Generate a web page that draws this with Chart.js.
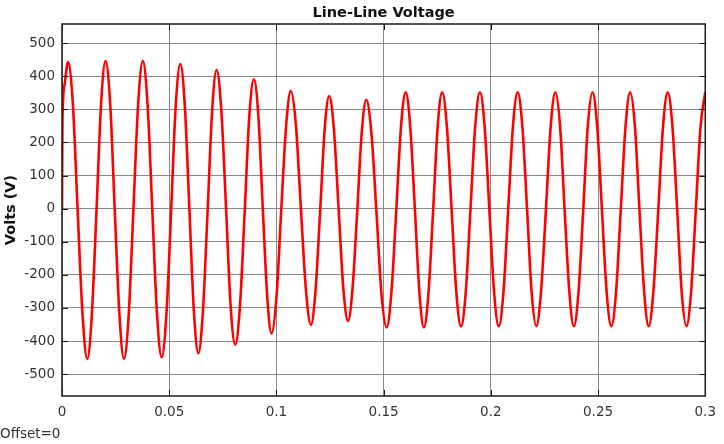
<!DOCTYPE html>
<html><head><meta charset="utf-8">
<script src="https://cdn.jsdelivr.net/npm/chart.js@4/dist/chart.umd.min.js"></script>
<style>html,body{margin:0;padding:0;background:#fff;}canvas{display:block;}</style>
</head><body>
<canvas id="c" width="724" height="444"></canvas>
<script>
const chartTitle = 'Line-Line Voltage';
const yAxisTitle = 'Volts (V)';
const footnote = 'Offset=0';
const xTickValues = [0, 0.05, 0.1, 0.15, 0.2, 0.25, 0.3];
const yTickValues = [-500, -400, -300, -200, -100, 0, 100, 200, 300, 400, 500];

const timeValues = [
0, 0.0002, 0.0012, 0.0028, 0.0051, 0.0073, 0.0096, 0.0118, 0.0139, 0.0161, 0.0182,
0.0203, 0.0225, 0.0246, 0.0268, 0.0289, 0.0311, 0.0333, 0.0355, 0.0377, 0.0399, 0.0421,
0.0443, 0.0465, 0.0487, 0.0509, 0.0530, 0.0552, 0.0573, 0.0594, 0.0615, 0.0636, 0.0657,
0.0679, 0.0700, 0.0721, 0.0743, 0.0765, 0.0786, 0.0808, 0.0830, 0.0852, 0.0873, 0.0895,
0.0916, 0.0936, 0.0957, 0.0977, 0.1000, 0.1022, 0.1045, 0.1067, 0.1091, 0.1114, 0.1138,
0.1161, 0.1182, 0.1204, 0.1225, 0.1246, 0.1268, 0.1290, 0.1312, 0.1334, 0.1355, 0.1377,
0.1398, 0.1419, 0.1443, 0.1467, 0.1490, 0.1514, 0.1536, 0.1559, 0.1581, 0.1603, 0.1624,
0.1646, 0.1667, 0.1688, 0.1709, 0.1731, 0.1752, 0.1773, 0.1795, 0.1817, 0.1839, 0.1861,
0.1883, 0.1905, 0.1927, 0.1949, 0.1971, 0.1993, 0.2015, 0.2037, 0.2059, 0.2081, 0.2103,
0.2125, 0.2147, 0.2169, 0.2190, 0.2212, 0.2234, 0.2257, 0.2279, 0.2301, 0.2323, 0.2344,
0.2366, 0.2387, 0.2409, 0.2431, 0.2452, 0.2474, 0.2496, 0.2518, 0.2540, 0.2562, 0.2584,
0.2606, 0.2628, 0.2650, 0.2672, 0.2693, 0.2715, 0.2736, 0.2758, 0.2781, 0.2803, 0.2825,
0.2847, 0.2869, 0.2890, 0.2912, 0.2934, 0.2956, 0.2978, 0.3000
];
const voltValues = [
0, 260, 375, 443, 312, -6, -323, -454, -322, -4, 314,
446, 314, -4, -322, -454, -322, -4, 314, 446, 315, -2,
-318, -449, -319, -6, 307, 437, 309, 0, -309, -437, -312,
-9, 294, 419, 297, 4, -289, -411, -294, -10, 274, 391,
278, 7, -264, -377, -270, -10, 249, 356, 252, 2, -248,
-351, -250, -6, 239, 340, 240, 0, -240, -339, -241, -5,
231, 329, 228, -15, -258, -359, -255, -4, 248, 352, 248,
-4, -255, -359, -255, -4, 248, 352, 248, -2, -252, -356,
-252, -2, 248, 352, 248, -2, -251, -355, -251, -2, 248,
352, 248, -2, -251, -355, -251, -2, 248, 352, 248, -2,
-251, -355, -251, -2, 248, 352, 248, -2, -251, -355, -251,
-2, 248, 352, 248, -2, -251, -355, -251, -2, 248, 352,
248, -2, -251, -355, -251, -2, 248, 352
];

const points = timeValues.map((t, i) => ({x: t, y: voltValues[i]}));

const decor = {
  id: 'decor',
  afterDraw(chart) {
    const {ctx, chartArea: a, scales: {x, y}} = chart;
    ctx.save();
    ctx.strokeStyle = '#1a1a1a';
    ctx.lineWidth = 1;
    ctx.beginPath();
    x.ticks.forEach(t => {
      const p = Math.round(x.getPixelForValue(t.value)) + 0.5;
      ctx.moveTo(p, a.top); ctx.lineTo(p, a.top + 6);
      ctx.moveTo(p, a.bottom); ctx.lineTo(p, a.bottom - 6);
    });
    y.ticks.forEach(t => {
      const p = Math.round(y.getPixelForValue(t.value)) + 0.5;
      ctx.moveTo(a.left, p); ctx.lineTo(a.left + 6, p);
      ctx.moveTo(a.right, p); ctx.lineTo(a.right - 6, p);
    });
    ctx.stroke();
    ctx.lineWidth = 1.5;
    ctx.strokeRect(a.left, a.top, a.right - a.left, a.bottom - a.top);

    ctx.fillStyle = '#111';
    ctx.font = 'bold 14.5px "DejaVu Sans"';
    ctx.textAlign = 'center';
    ctx.textBaseline = 'alphabetic';
    ctx.fillText(chartTitle, (a.left + a.right) / 2, 17);

    ctx.save();
    ctx.translate(15, (a.top + a.bottom) / 2);
    ctx.rotate(-Math.PI / 2);
    ctx.fillText(yAxisTitle, 0, 0);
    ctx.restore();

    ctx.font = '13.5px "DejaVu Sans"';
    ctx.fillStyle = '#333';
    ctx.textAlign = 'left';
    ctx.fillText(footnote, 0, 438);
    ctx.restore();
  }
};

const tickFont = {family: 'DejaVu Sans', size: 13.5};

new Chart(document.getElementById('c'), {
  type: 'line',
  data: {
    datasets: [{
      data: points,
      borderColor: '#ff0000',
      borderWidth: 2.6,
      pointRadius: 0,
      cubicInterpolationMode: 'monotone',
      fill: false
    }]
  },
  options: {
    responsive: false,
    animation: false,
    devicePixelRatio: 1,
    layout: {padding: {left: 0, right: 17, top: 24, bottom: 0}},
    plugins: {legend: {display: false}, tooltip: {enabled: false}, title: {display: false}},
    scales: {
      x: {
        type: 'linear', min: 0, max: 0.3,
        afterBuildTicks: s => { s.ticks = xTickValues.map(v => ({value: v})); },
        afterFit: s => { s.height = 48; },
        grid: {color: '#888', lineWidth: 1, drawTicks: false},
        border: {display: false},
        ticks: {padding: 8, color: '#333', font: tickFont, maxRotation: 0, autoSkip: false, callback: v => String(v)}
      },
      y: {
        type: 'linear', min: -566, max: 558,
        afterBuildTicks: s => { s.ticks = yTickValues.map(v => ({value: v})); },
        afterFit: s => { s.width = 62; },
        grid: {color: '#888', lineWidth: 1, drawTicks: false},
        border: {display: false},
        ticks: {padding: 7, color: '#333', font: tickFont, autoSkip: false, callback: v => String(v)}
      }
    }
  },
  plugins: [decor]
});
</script>
</body></html>
